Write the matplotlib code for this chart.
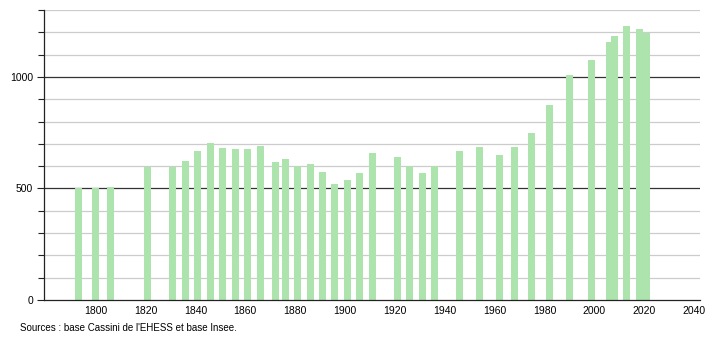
import matplotlib
matplotlib.use("Agg")
import matplotlib.pyplot as plt
from matplotlib.ticker import MultipleLocator

years = [1793, 1800, 1806, 1821, 1831, 1836, 1841, 1846, 1851, 1856, 1861, 1866,
         1872, 1876, 1881, 1886, 1891, 1896, 1901, 1906, 1911, 1921, 1926, 1931,
         1936, 1946, 1954, 1962, 1968, 1975, 1982, 1990, 1999, 2006, 2008, 2013,
         2018, 2021]
population = [500, 500, 507, 598, 598, 624, 668, 703, 683, 677, 677, 690,
              619, 631, 602, 611, 575, 521, 538, 571, 659, 641, 601, 569,
              601, 666, 686, 648, 686, 748, 874, 1007, 1076, 1158, 1185, 1228,
              1213, 1195]
source_text = "Sources : base Cassini de l'EHESS et base Insee."

plt.rcParams['font.family'] = ['Liberation Sans', 'DejaVu Sans']

fig = plt.figure(figsize=(7.1, 3.4), dpi=100)
ax = fig.add_axes([44/710, 40/340, 656/710, 290/340])

ax.set_xlim(1779.3, 2042.4)
ax.set_ylim(0, 1300)

# grid lines
for v in range(100, 1301, 100):
    if v % 500 == 0:
        ax.axhline(v, color='#333333', lw=0.9, zorder=1)
    else:
        ax.axhline(v, color='#cccccc', lw=0.9, zorder=1)

ax.bar(years, population, width=2.8, color='#ade3ad', zorder=2)

for s in ['top', 'right']:
    ax.spines[s].set_visible(False)
ax.spines['left'].set_color('#222222')
ax.spines['bottom'].set_color('#222222')
ax.spines['left'].set_linewidth(0.9)
ax.spines['bottom'].set_linewidth(0.9)

ax.yaxis.set_major_locator(MultipleLocator(500))
ax.yaxis.set_minor_locator(MultipleLocator(100))
ax.xaxis.set_major_locator(MultipleLocator(20))
ax.set_xticks(range(1800, 2041, 20))
ax.tick_params(axis='y', which='major', length=5, width=0.8, labelsize=7.5, pad=3, color='#222222')
ax.tick_params(axis='y', which='minor', length=4, width=0.8, color='#222222')
ax.tick_params(axis='x', length=0, labelsize=7.5, pad=4)

fig.text(20/710, 1 - 328/340, source_text, fontsize=7, va='center', ha='left')

fig.savefig('out.png', dpi=100)
